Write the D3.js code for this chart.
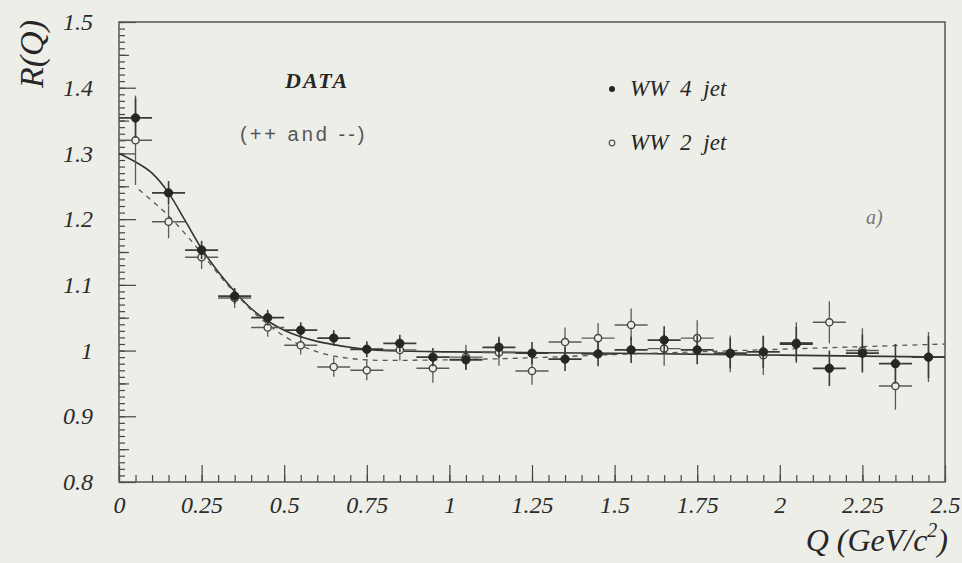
<!DOCTYPE html>
<html>
<head>
<meta charset="utf-8">
<script src="https://cdnjs.cloudflare.com/ajax/libs/d3/7.8.5/d3.min.js"></script>
<style>
  body { margin: 0; background: #eeeee8; }
  svg { display: block; }
  .tick text { font-family: "Liberation Serif", serif; font-style: italic; fill: #2b2b2b; }
</style>
</head>
<body>
<script>
'use strict';

// bin centres in Q (GeV/c^2)
const qBins = [0.05, 0.15, 0.25, 0.35, 0.45, 0.55, 0.65, 0.75, 0.85, 0.95,
  1.05, 1.15, 1.25, 1.35, 1.45, 1.55, 1.65, 1.75, 1.85, 1.95,
  2.05, 2.15, 2.25, 2.35, 2.45];
const binHalfWidth = 0.05;

// WW 4 jet (filled points)
const r4jet = [1.354, 1.240, 1.153, 1.083, 1.050, 1.031, 1.019, 1.002, 1.011, 0.990,
  0.986, 1.005, 0.996, 0.987, 0.995, 1.001, 1.016, 1.001, 0.996, 0.998,
  1.010, 0.973, 0.996, 0.980, 0.990];
const err4jet = [0.030, 0.018, 0.014, 0.012, 0.012, 0.012, 0.012, 0.012, 0.013, 0.014,
  0.015, 0.016, 0.017, 0.018, 0.019, 0.020, 0.021, 0.022, 0.023, 0.024,
  0.026, 0.027, 0.028, 0.030, 0.032];

// WW 2 jet (open points)
const r2jet = [1.320, 1.196, 1.142, 1.080, 1.035, 1.008, 0.975, 0.970, 1.001, 0.973,
  0.990, 0.997, 0.969, 1.013, 1.019, 1.039, 1.003, 1.019, 0.995, 0.993,
  1.012, 1.043, 1.000, 0.946, 0.990];
const err2jet = [0.068, 0.025, 0.018, 0.015, 0.014, 0.014, 0.015, 0.015, 0.016, 0.022,
  0.019, 0.020, 0.021, 0.022, 0.023, 0.025, 0.026, 0.027, 0.028, 0.030,
  0.031, 0.032, 0.034, 0.036, 0.038];

// fit curves
const fitSolidQ = [0, 0.05, 0.10, 0.15, 0.20, 0.25, 0.30, 0.35, 0.40, 0.45,
  0.50, 0.55, 0.60, 0.65, 0.70, 0.80, 1.00, 1.50, 2.00, 2.50];
const fitSolidR = [1.300, 1.287, 1.270, 1.240, 1.198, 1.155, 1.120, 1.090, 1.064, 1.045,
  1.031, 1.021, 1.014, 1.009, 1.005, 1.000, 0.998, 0.996, 0.993, 0.990];
const fitDashQ = [0.06, 0.10, 0.15, 0.20, 0.25, 0.30, 0.35, 0.40, 0.45, 0.50,
  0.55, 0.60, 0.70, 0.80, 1.00, 1.25, 1.50, 1.75, 2.00, 2.25, 2.50];
const fitDashR = [1.245, 1.228, 1.205, 1.178, 1.148, 1.117, 1.088, 1.062, 1.040, 1.022,
  1.008, 0.998, 0.988, 0.985, 0.986, 0.989, 0.994, 0.998, 1.002, 1.006, 1.010];

// axis ticks
const xTicks = [0, 0.25, 0.5, 0.75, 1, 1.25, 1.5, 1.75, 2, 2.25, 2.5];
const xTickLabels = ["0", "0.25", "0.5", "0.75", "1", "1.25", "1.5", "1.75", "2", "2.25", "2.5"];
const yTicks = [0.8, 0.9, 1.0, 1.1, 1.2, 1.3, 1.4, 1.5];
const yTickLabels = ["0.8", "0.9", "1", "1.1", "1.2", "1.3", "1.4", "1.5"];

(function() {

  const ink = "#262626";
  let svgContainer = "";

  window.onload = function() {
    svgContainer = d3.select('body')
      .append('svg')
      .attr('width', 962)
      .attr('height', 563);

    let map = drawAxes();
    drawFits(map);
    plotData(map);
    makeLabels();
  }

  // frame, ticks and tick labels
  function drawAxes() {
    let xScale = d3.scaleLinear().domain([0, 2.5]).range([119, 945]);
    let yScale = d3.scaleLinear().domain([0.8, 1.5]).range([482, 22]);

    // minor ticks first so the major ones sit on top
    let xMinor = d3.range(0, 2.5001, 0.05);
    svgContainer.append('g')
      .attr('transform', 'translate(0, 482)')
      .call(d3.axisBottom(xScale).tickValues(xMinor).tickSize(-7).tickFormat(""))
      .call(g => g.select('.domain').remove());

    svgContainer.append('g')
      .attr('transform', 'translate(0, 482)')
      .call(d3.axisBottom(xScale).tickValues(xTicks).tickSize(-17).tickPadding(14)
        .tickFormat((d, i) => xTickLabels[i]))
      .call(g => g.select('.domain').remove())
      .style('font-size', '24px');

    let yMinor = d3.range(0.8, 1.5001, 0.01);
    svgContainer.append('g')
      .attr('transform', 'translate(119, 0)')
      .call(d3.axisLeft(yScale).tickValues(yMinor).tickSize(-6).tickFormat(""))
      .call(g => g.select('.domain').remove());

    let yMid = d3.range(0.85, 1.5, 0.1);
    svgContainer.append('g')
      .attr('transform', 'translate(119, 0)')
      .call(d3.axisLeft(yScale).tickValues(yMid).tickSize(-10).tickFormat(""))
      .call(g => g.select('.domain').remove());

    svgContainer.append('g')
      .attr('transform', 'translate(119, 0)')
      .call(d3.axisLeft(yScale).tickValues(yTicks).tickSize(-17).tickPadding(26)
        .tickFormat((d, i) => yTickLabels[i]))
      .call(g => g.select('.domain').remove())
      .style('font-size', '24px');

    svgContainer.selectAll('.tick line')
      .attr('stroke', '#444')
      .attr('stroke-width', 1.2);

    // frame
    svgContainer.append('rect')
      .attr('x', xScale(0))
      .attr('y', yScale(1.5))
      .attr('width', xScale(2.5) - xScale(0))
      .attr('height', yScale(0.8) - yScale(1.5))
      .attr('fill', 'none')
      .attr('stroke', '#555')
      .attr('stroke-width', 1.5);

    return { x: xScale, y: yScale };
  }

  // solid (4 jet) and dashed (2 jet) fit curves
  function drawFits(map) {
    let line = d3.line()
      .x((d) => map.x(d[0]))
      .y((d) => map.y(d[1]))
      .curve(d3.curveMonotoneX);

    svgContainer.append('path')
      .attr('d', line(d3.zip(fitSolidQ, fitSolidR)))
      .attr('fill', 'none')
      .attr('stroke', '#333')
      .attr('stroke-width', 1.6);

    svgContainer.append('path')
      .attr('d', line(d3.zip(fitDashQ, fitDashR)))
      .attr('fill', 'none')
      .attr('stroke', '#555')
      .attr('stroke-width', 1.3)
      .attr('stroke-dasharray', '5,5');
  }

  // points with error bars
  function plotData(map) {
    let series = [
      { r: r2jet, err: err2jet, filled: false },
      { r: r4jet, err: err4jet, filled: true }
    ];

    series.forEach((s) => {
      let rows = qBins.map((q, i) => ({ q: q, r: s.r[i], e: s.err[i] }));
      let g = svgContainer.append('g');

      // horizontal bars (bin width)
      g.selectAll('.hbar')
        .data(rows)
        .enter()
        .append('line')
          .attr('x1', (d) => map.x(d.q - binHalfWidth))
          .attr('x2', (d) => map.x(d.q + binHalfWidth))
          .attr('y1', (d) => map.y(d.r))
          .attr('y2', (d) => map.y(d.r))
          .attr('stroke', s.filled ? '#3a3a3a' : '#5a5a5a')
          .attr('stroke-width', s.filled ? 1.8 : 1.4);

      // vertical error bars
      g.selectAll('.vbar')
        .data(rows)
        .enter()
        .append('line')
          .attr('x1', (d) => map.x(d.q))
          .attr('x2', (d) => map.x(d.q))
          .attr('y1', (d) => map.y(d.r - d.e))
          .attr('y2', (d) => map.y(d.r + d.e))
          .attr('stroke', s.filled ? '#3a3a3a' : '#5a5a5a')
          .attr('stroke-width', s.filled ? 1.6 : 1.3);

      g.selectAll('circle')
        .data(rows)
        .enter()
        .append('circle')
          .attr('cx', (d) => map.x(d.q))
          .attr('cy', (d) => map.y(d.r))
          .attr('r', s.filled ? 4.2 : 3.6)
          .attr('fill', s.filled ? ink : '#eeeee8')
          .attr('stroke', s.filled ? ink : '#444')
          .attr('stroke-width', s.filled ? 1 : 1.4);
    });
  }

  // texts: axis titles, legend, annotations
  function makeLabels() {
    svgContainer.append('text')
      .attr('transform', 'translate(43, 54)rotate(-90)')
      .attr('text-anchor', 'middle')
      .style('font-family', '"Liberation Serif", serif')
      .style('font-style', 'italic')
      .style('font-size', '34px')
      .style('fill', ink)
      .text('R(Q)');

    let xTitle = svgContainer.append('text')
      .attr('x', 948)
      .attr('y', 551)
      .attr('text-anchor', 'end')
      .style('font-family', '"Liberation Serif", serif')
      .style('font-style', 'italic')
      .style('font-size', '32px')
      .style('fill', ink);
    xTitle.append('tspan').text('Q (GeV/c');
    xTitle.append('tspan').attr('dy', -14).style('font-size', '20px').text('2');
    xTitle.append('tspan').attr('dy', 14).text(')');

    svgContainer.append('text')
      .attr('x', 285)
      .attr('y', 88)
      .style('font-family', '"Liberation Serif", serif')
      .style('font-style', 'italic')
      .style('font-weight', 'bold')
      .style('font-size', '22px')
      .style('letter-spacing', '2px')
      .style('fill', ink)
      .text('DATA');

    svgContainer.append('text')
      .attr('x', 240)
      .attr('y', 141)
      .style('font-family', '"Liberation Sans", sans-serif')
      .style('font-size', '20px')
      .style('letter-spacing', '3px')
      .style('fill', '#555')
      .text('(++ and --)');

    // legend
    svgContainer.append('circle')
      .attr('cx', 612).attr('cy', 89).attr('r', 3)
      .attr('fill', ink);
    svgContainer.append('circle')
      .attr('cx', 612).attr('cy', 143).attr('r', 2.8)
      .attr('fill', 'none').attr('stroke', '#555').attr('stroke-width', 1.2);

    let legendText = ['WW 4 jet', 'WW 2 jet'];
    svgContainer.selectAll('.legend')
      .data(legendText)
      .enter()
      .append('text')
        .attr('x', 630)
        .attr('y', (d, i) => 96 + i * 54)
        .style('font-family', '"Liberation Serif", serif')
        .style('font-style', 'italic')
        .style('font-size', '23px')
        .style('word-spacing', '6px')
        .style('fill', ink)
        .text((d) => d);

    svgContainer.append('text')
      .attr('x', 866)
      .attr('y', 224)
      .style('font-family', '"Liberation Serif", serif')
      .style('font-style', 'italic')
      .style('font-size', '20px')
      .style('fill', '#777')
      .text('a)');
  }

})();
</script>
</body>
</html>
